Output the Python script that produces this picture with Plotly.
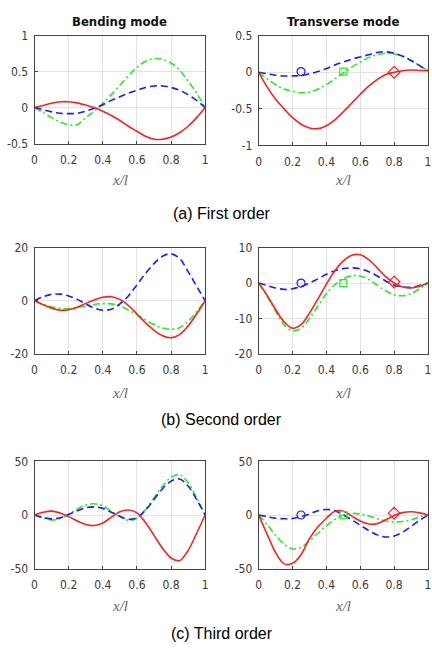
import plotly.graph_objects as go

W, H = 432, 653

# ---------------- data ----------------
x = [0, 0.05, 0.1, 0.15, 0.2, 0.25, 0.3, 0.35, 0.4, 0.45, 0.5,
     0.55, 0.6, 0.65, 0.7, 0.75, 0.8, 0.85, 0.9, 0.95, 1.0]

# (a) First order - bending mode
bend1_red = [0, 0.03, 0.06, 0.08, 0.08, 0.065, 0.035, 0.0, -0.05, -0.11, -0.18,
             -0.26, -0.33, -0.40, -0.44, -0.44, -0.41, -0.35, -0.26, -0.14, 0]
bend1_green = [0, -0.07, -0.14, -0.2, -0.24, -0.24, -0.14, -0.05, 0.06, 0.18, 0.31,
               0.44, 0.56, 0.64, 0.68, 0.67, 0.62, 0.52, 0.37, 0.2, 0]
bend1_blue = [0, -0.03, -0.06, -0.08, -0.085, -0.08, -0.05, -0.01, 0.04, 0.1, 0.15,
              0.2, 0.24, 0.28, 0.3, 0.3, 0.28, 0.24, 0.18, 0.1, 0]
# (a) First order - transverse mode
trans1_red = [0, -0.2, -0.37, -0.5, -0.62, -0.71, -0.76, -0.77, -0.73, -0.65, -0.54,
              -0.42, -0.3, -0.19, -0.1, -0.03, 0.0, 0.02, 0.03, 0.025, 0.02]
trans1_green = [0, -0.09, -0.17, -0.23, -0.26, -0.28, -0.27, -0.23, -0.17, -0.09, -0.01,
                0.07, 0.14, 0.2, 0.24, 0.26, 0.25, 0.22, 0.16, 0.09, 0.02]
trans1_blue = [0, -0.02, -0.04, -0.05, -0.05, -0.045, -0.02, 0.01, 0.05, 0.1, 0.14,
               0.18, 0.21, 0.24, 0.27, 0.28, 0.26, 0.22, 0.16, 0.09, 0.02]

# (b) Second order - bending mode
bend2_red = [0, -1.5, -2.8, -3.6, -3.4, -2.5, -1.0, 0.3, 1.3, 1.5, 0.5,
             -1.8, -5.0, -8.3, -11.2, -13.2, -14.0, -12.8, -9.5, -5.0, 0]
bend2_green = [0, -1.3, -2.3, -2.9, -3.0, -2.6, -2.0, -1.4, -1.1, -1.2, -2.0,
               -3.5, -5.3, -7.2, -9.0, -10.3, -10.8, -10.2, -7.8, -4.2, 0]
bend2_blue = [0, 1.5, 2.4, 2.5, 1.8, 0.5, -1.2, -2.8, -3.6, -3.2, -1.2,
              1.8, 6.0, 10.3, 14.0, 16.8, 17.7, 16.0, 11.0, 5.5, 0]
# (b) Second order - transverse mode
trans2_red = [0, -3.5, -7.5, -11.0, -12.8, -11.8, -8.5, -4.5, -0.3, 3.5, 6.3,
              7.9, 8.0, 6.6, 4.3, 1.8, 0.0, -1.1, -1.4, -0.9, 0]
trans2_green = [0, -3.8, -8.0, -11.8, -13.5, -12.8, -10.0, -6.5, -3.0, -0.5, 1.2,
                2.1, 2.0, 1.0, -0.6, -2.2, -3.3, -3.6, -3.0, -1.6, 0]
trans2_blue = [0, -0.7, -1.4, -1.8, -1.6, -1.0, 0.0, 1.2, 2.5, 3.5, 4.1,
               4.3, 4.0, 3.2, 2.0, 0.6, -0.6, -1.1, -1.2, -0.7, 0]

# (c) Third order - bending mode
bend3_red = [0, 2.5, 3.6, 1.8, -1.5, -5.5, -8.8, -9.8, -7.5, -2.0, 3.0,
             4.7, 2.0, -7.0, -19.0, -31.0, -40.0, -42.5, -33.0, -17.0, 0]
bend3_green = [0, -2.8, -4.6, -3.2, 0.8, 5.5, 9.3, 10.5, 8.5, 3.5, -1.5,
               -5.0, -3.0, 5.0, 16.0, 27.0, 35.0, 37.5, 30.0, 16.0, 0]
bend3_blue = [0, -2.2, -3.6, -2.6, 0.5, 4.0, 6.8, 7.6, 6.2, 2.5, -1.2,
              -4.0, -2.5, 4.5, 14.5, 24.5, 31.5, 33.5, 27.0, 14.5, 0]
# (c) Third order - transverse mode
trans3_red = [0, -18.0, -35.0, -45.5, -45.0, -37.0, -22.0, -11.0, -3.0, 3.5, 3.5,
              -1.0, -5.5, -8.3, -8.0, -4.5, -0.5, 2.2, 3.0, 2.0, 0]
trans3_green = [0, -9.0, -19.0, -27.0, -31.5, -30.0, -24.0, -17.0, -10.0, -4.0, 0.0,
                1.5, 1.0, -1.0, -3.5, -5.5, -6.5, -6.0, -4.5, -2.0, 0]
trans3_blue = [0, -1.5, -3.0, -3.5, -3.2, -1.5, 1.0, 4.0, 5.2, 4.0, 0.0,
               -4.5, -9.5, -14.5, -18.5, -20.5, -19.5, -16.0, -10.5, -5.0, 0]

# marker points on transverse-mode plots (x, y per order)
marker_circle_x = 0.25
marker_square_x = 0.5
marker_diamond_x = 0.8
marker_circle_y = [0.01, 0.0, 0.0]
marker_square_y = [0.01, 0.0, 0.0]
marker_diamond_y = [0.0, 0.3, 1.7]

x_tickvals = [0, 0.2, 0.4, 0.6, 0.8, 1]
x_ticktext = ["0", "0.2", "0.4", "0.6", "0.8", "1"]

y_ranges = [[-0.5, 1], [-1, 0.5], [-20, 20], [-20, 10], [-50, 50], [-50, 50]]
y_tickvals = [[-0.5, 0, 0.5, 1], [-1, -0.5, 0, 0.5], [-20, 0, 20],
              [-20, -10, 0, 10], [-50, 0, 50], [-50, 0, 50]]
y_ticktext = [["-0.5", "0", "0.5", "1"], ["-1", "-0.5", "0", "0.5"], ["-20", "0", "20"],
              ["-20", "-10", "0", "10"], ["-50", "0", "50"], ["-50", "0", "50"]]

column_titles = ["Bending mode", "Transverse mode"]
captions = ["(a) First order", "(b) Second order", "(c) Third order"]
x_label = "x/l"

panels = [
    (bend1_blue, bend1_green, bend1_red),
    (trans1_blue, trans1_green, trans1_red),
    (bend2_blue, bend2_green, bend2_red),
    (trans2_blue, trans2_green, trans2_red),
    (bend3_blue, bend3_green, bend3_red),
    (trans3_blue, trans3_green, trans3_red),
]

# ---------------- layout geometry (pixels) ----------------
col_px = [(32, 205), (259.3, 431)]
row_px = [(29.3, 139.5), (246, 354.3), (464.3, 574)]
row_px_right = [(29.3, 141.5), (246, 354.3), (464.3, 574)]

BLUE = "#1a1aff"
GREEN = "#22ee22"
RED = "#ff2020"
NARROW = "Liberation Sans Narrow, Arial Narrow, DejaVu Sans Condensed, Liberation Sans, sans-serif"
TICKFONT = dict(family=NARROW, size=12, color="#3a3a3a")

fig = go.Figure()
layout = dict(width=W, height=H, margin=dict(l=0, r=0, t=0, b=0),
              paper_bgcolor="white", plot_bgcolor="white", showlegend=False)

annotations = []
for i, (blue, green, red) in enumerate(panels):
    r, c = divmod(i, 2)
    n = i + 1
    xa = "x" if n == 1 else f"x{n}"
    ya = "y" if n == 1 else f"y{n}"
    x0, x1 = col_px[c]
    y0, y1 = (row_px if c == 0 else row_px_right)[r]
    common = dict(showline=True, linecolor="#444444", linewidth=1, mirror=True,
                  showgrid=True, gridcolor="#e2e2e2", gridwidth=1,
                  ticks="inside", ticklen=3, tickcolor="#444444",
                  tickfont=TICKFONT, zeroline=False, fixedrange=True)
    layout[f"xaxis{n}"] = dict(domain=[x0 / W, x1 / W], range=[0, 1], anchor=ya,
                               tickvals=x_tickvals, ticktext=x_ticktext,
                               ticklabelstandoff=5, **common)
    layout[f"yaxis{n}"] = dict(domain=[1 - y1 / H, 1 - y0 / H], range=y_ranges[i], anchor=xa,
                               tickvals=y_tickvals[i], ticktext=y_ticktext[i],
                               ticklabelstandoff=3, **common)
    fig.add_trace(go.Scatter(x=x, y=green, mode="lines", xaxis=xa, yaxis=ya,
                             line=dict(color=GREEN, width=1.6, dash="7px,3px,2px,3px",
                                       shape="spline", smoothing=1.0)))
    fig.add_trace(go.Scatter(x=x, y=blue, mode="lines", xaxis=xa, yaxis=ya,
                             line=dict(color=BLUE, width=1.6, dash="7px,4px",
                                       shape="spline", smoothing=1.0)))
    fig.add_trace(go.Scatter(x=x, y=red, mode="lines", xaxis=xa, yaxis=ya,
                             line=dict(color=RED, width=1.6, shape="spline", smoothing=1.0)))
    if c == 1:
        fig.add_trace(go.Scatter(x=[marker_circle_x], y=[marker_circle_y[r]], mode="markers",
                                 xaxis=xa, yaxis=ya,
                                 marker=dict(symbol="circle-open", size=8, color=BLUE,
                                             line=dict(width=1.2, color=BLUE))))
        fig.add_trace(go.Scatter(x=[marker_square_x], y=[marker_square_y[r]], mode="markers",
                                 xaxis=xa, yaxis=ya,
                                 marker=dict(symbol="square-open", size=7, color=GREEN,
                                             line=dict(width=1.2, color=GREEN))))
        fig.add_trace(go.Scatter(x=[marker_diamond_x], y=[marker_diamond_y[r]], mode="markers",
                                 xaxis=xa, yaxis=ya,
                                 marker=dict(symbol="diamond-open", size=9, color=RED,
                                             line=dict(width=1.2, color=RED))))
    # x-axis label
    label_y = [177, 394, 612][r]
    annotations.append(dict(text=f"<i>{x_label}</i>", xref="paper", yref="paper",
                            x=((x0 + x1) / 2) / W, y=1 - label_y / H,
                            xanchor="center", yanchor="middle", showarrow=False,
                            font=dict(family="Liberation Serif, DejaVu Serif, serif",
                                      size=15, color="#666666")))

# column titles
for c, t in enumerate(column_titles):
    x0, x1 = col_px[c]
    annotations.append(dict(text=f"<b>{t}</b>", xref="paper", yref="paper",
                            x=((x0 + x1) / 2) / W, y=1 - 15 / H,
                            xanchor="center", yanchor="middle", showarrow=False,
                            font=dict(family=NARROW, size=13, color="#111111")))

# captions
for cap, cy in zip(captions, [211, 422, 640]):
    annotations.append(dict(text=cap, xref="paper", yref="paper",
                            x=222 / W, y=1 - cy / H,
                            xanchor="center", yanchor="middle", showarrow=False,
                            font=dict(family="Liberation Sans, Arial, sans-serif",
                                      size=16, color="#000000")))

layout["annotations"] = annotations
fig.update_layout(**layout)

fig.write_html("out.html")
